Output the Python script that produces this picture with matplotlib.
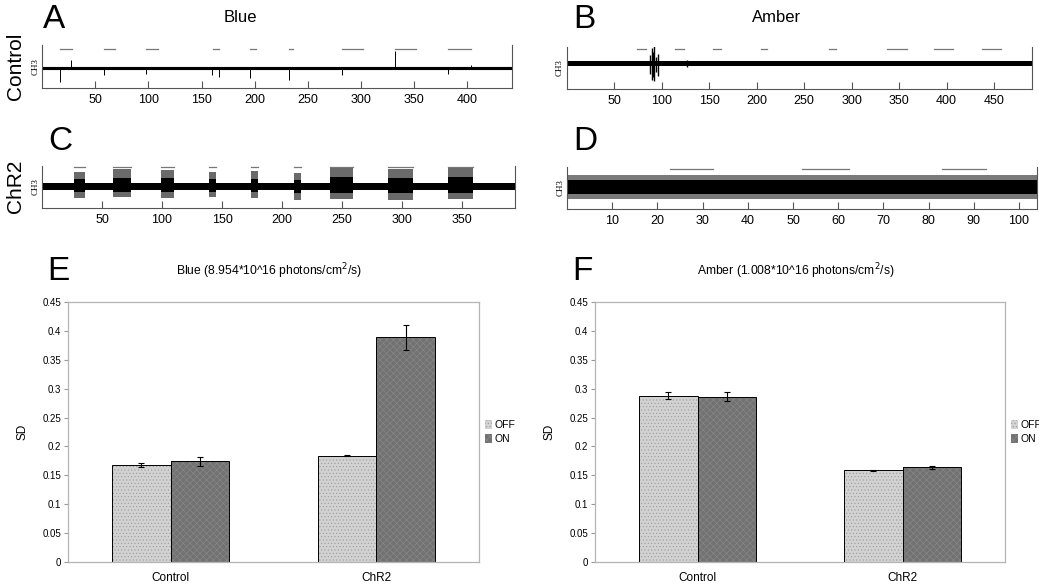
import matplotlib.pyplot as plt
from matplotlib.patches import Patch

plt.rcParams['font.family'] = ['Liberation Sans', 'DejaVu Sans']
plt.rcParams['hatch.linewidth'] = 0.4

W, H = 1039, 585

# ---- recordings (A-D): light-on periods, envelopes ----
stim_a = [(17, 28), (58, 69), (98, 109), (161, 166), (196, 201), (232, 236),
          (282, 302), (332, 352), (382, 403)]
spike_pos_a = [17, 27, 58, 98, 160, 166, 196, 232, 282, 332, 382, 403]
spike_amp_a = [-0.7, 0.4, -0.35, -0.3, -0.35, -0.45, -0.5, -0.6, -0.35, 0.9, -0.3, 0.15]
band_a = 0.05

stim_b = [(74, 84), (114, 124), (154, 163), (205, 211), (276, 284), (337, 358),
          (387, 407), (437, 457)]
spike_pos_b = [88, 89.5, 91, 92.5, 94, 96.5, 127]
spike_lo_b = [-0.6, -0.95, -0.8, -1.0, -0.5, -0.7, -0.2]
spike_hi_b = [0.5, 0.95, 0.7, 1.05, 0.4, 0.6, 0.25]
band_b = 0.16

stim_c = [(26.7, 35.8), (59.4, 73.9), (99.2, 110), (139, 145), (174, 180),
          (210, 216), (240, 259.4), (288, 309.4), (337.8, 359)]
burst_hi_c = [0.72, 0.88, 0.83, 0.75, 0.8, 0.67, 0.93, 0.88, 0.97]
burst_lo_c = [-0.62, -0.57, -0.62, -0.57, -0.6, -0.73, -0.67, -0.7, -0.67]
band_c = 0.17

stim_d = [(22.7, 32.3), (52, 62.4), (82.9, 92.8)]
band_d = 0.37
fringe_d = 0.65

# ---- SD bar charts (E, F) ----
groups = ['Control', 'ChR2']
blue_off = [0.168, 0.184]
blue_on = [0.174, 0.389]
blue_off_err = [0.004, 0.0012]
blue_on_err = [0.0078, 0.022]
amber_off = [0.288, 0.1585]
amber_on = [0.286, 0.1637]
amber_off_err = [0.006, 0.0015]
amber_on_err = [0.008, 0.002]


def rect(left, top, right, bottom):
    return [left / W, 1 - bottom / H, (right - left) / W, (bottom - top) / H]


fig = plt.figure(figsize=(W / 100, H / 100), dpi=100)


def trace_axes(box, xmax, ticks, ylim, stim, stim_y):
    ax = fig.add_axes(rect(*box))
    ax.set_xlim(0, xmax)
    ax.set_ylim(*ylim)
    ax.spines['top'].set_visible(False)
    for s in ['left', 'right', 'bottom']:
        ax.spines[s].set_color('#555555')
        ax.spines[s].set_linewidth(0.8)
    ax.set_xticks(ticks)
    ax.tick_params(axis='x', direction='in', length=5, width=0.8, color='#555555',
                   labelsize=9, pad=4)
    ax.set_yticks([])
    ax.set_ylabel('CH3', family=['Liberation Serif', 'DejaVu Serif'], fontsize=6.5, labelpad=2)
    for s0, s1 in stim:
        ax.plot([s0, s1], [stim_y, stim_y], color='#777777', lw=0.9)
    return ax


# A
ax = trace_axes((42, 45, 512, 88), 442, range(50, 401, 50), (-1, 1.18), stim_a, 1.0)
ax.fill_between([0, 442], -band_a, band_a, color='black', lw=0.8)
ax.vlines(spike_pos_a, 0, spike_amp_a, color='black', lw=0.7)

# B
ax = trace_axes((566.5, 47, 1032, 89), 490, range(50, 451, 50), (-1.5, 1.0), stim_b, 0.87)
ax.fill_between([0, 490], -band_b, band_b, color='black', lw=0)
ax.vlines(spike_pos_b, spike_lo_b, spike_hi_b, color='black', lw=1.0)

# C
ax = trace_axes((42, 166, 515, 208), 394, range(50, 351, 50), (-1.12, 1.05), stim_c, 1.0)
ax.fill_between([0, 394], -band_c, band_c, color='black', lw=0)
for (s0, s1), hi, lo in zip(stim_c, burst_hi_c, burst_lo_c):
    ax.fill_between([s0, s1], lo, hi, color='#6a6a6a', lw=0)
    ax.fill_between([s0, s1], lo * 0.5, hi * 0.5, color='black', lw=0)

# D
ax = trace_axes((567, 167, 1037, 209), 104, range(10, 101, 10), (-1.15, 1.05), stim_d, 0.93)
ax.fill_between([0, 104], -fringe_d, fringe_d, color='#7a7a7a', lw=0)
ax.fill_between([0, 104], -band_d, band_d, color='black', lw=0)


def bar_axes(box, off, on, off_err, on_err, title, title_x):
    ax = fig.add_axes(rect(*box))
    w = 0.285
    x = range(len(groups))
    xo = [i - w / 2 for i in x]
    xn = [i + w / 2 for i in x]
    ax.bar(xo, off, w, color='#d2d2d2', hatch='.....', edgecolor='#9a9a9a', lw=0)
    ax.bar(xn, on, w, color='#727272', hatch='xxxxx', edgecolor='#8a8a8a', lw=0)
    ax.bar(xo, off, w, fill=False, edgecolor='black', lw=0.7)
    ax.bar(xn, on, w, fill=False, edgecolor='black', lw=0.7)
    ax.errorbar(xo, off, yerr=off_err, fmt='none', ecolor='black', elinewidth=0.8,
                capsize=2, capthick=0.8)
    ax.errorbar(xn, on, yerr=on_err, fmt='none', ecolor='black', elinewidth=0.8,
                capsize=2, capthick=0.8)
    ax.set_xlim(-0.5, 1.5)
    ax.set_ylim(0, 0.45)
    ax.set_yticks([0, 0.05, 0.1, 0.15, 0.2, 0.25, 0.3, 0.35, 0.4, 0.45])
    ax.set_yticklabels(['0', '0.05', '0.1', '0.15', '0.2', '0.25', '0.3', '0.35', '0.4', '0.45'])
    ax.set_xticks(list(x))
    ax.set_xticklabels(groups)
    ax.tick_params(axis='y', direction='out', length=3, color='#999999', labelsize=7, pad=2)
    ax.tick_params(axis='x', length=0, labelsize=8.5, pad=7)
    for s in ax.spines.values():
        s.set_color('#b5b5b5')
        s.set_linewidth(0.9)
    ax.set_ylabel('SD', fontsize=8.5, labelpad=10)
    fig.text(title_x / W, 1 - 271 / H, title, fontsize=8.7, ha='center', va='center')
    handles = [Patch(facecolor='#d2d2d2', hatch='.....', edgecolor='#9a9a9a', lw=0),
               Patch(facecolor='#727272', hatch='xxxxx', edgecolor='#8a8a8a', lw=0)]
    ax.legend(handles, ['OFF', 'ON'], loc='center left', bbox_to_anchor=(1.015, 0.5),
              frameon=False, fontsize=7.5, handlelength=0.7, handleheight=0.9,
              handletextpad=0.2, borderpad=0, borderaxespad=0, labelspacing=0.35)
    return ax


bar_axes((68, 302, 479, 562), blue_off, blue_on, blue_off_err, blue_on_err,
         r'Blue (8.954*10^16 photons/cm$^2$/s)', 269)
bar_axes((595, 302, 1005, 562), amber_off, amber_on, amber_off_err, amber_on_err,
         r'Amber (1.008*10^16 photons/cm$^2$/s)', 796)

# panel letters, column titles, row labels
for letter, px, py in [('A', 43, 20), ('B', 573, 20), ('C', 48, 141), ('D', 573, 141),
                       ('E', 47, 271), ('F', 572, 271)]:
    fig.text(px / W, 1 - py / H, letter, fontsize=24, ha='left', va='center')
fig.text(240 / W, 1 - 18 / H, 'Blue', fontsize=12, ha='center', va='center')
fig.text(777 / W, 1 - 18 / H, 'Amber', fontsize=12, ha='center', va='center')
fig.text(16 / W, 1 - 66 / H, 'Control', fontsize=15, rotation=90, ha='center', va='center')
fig.text(16 / W, 1 - 186 / H, 'ChR2', fontsize=15, rotation=90, ha='center', va='center')

fig.savefig('out.png', dpi=100)
